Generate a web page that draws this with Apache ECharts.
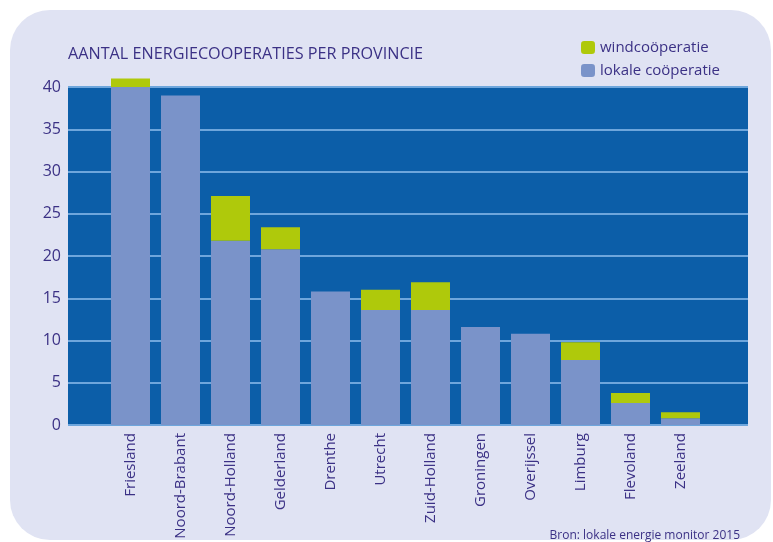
<!DOCTYPE html>
<html>
<head>
<meta charset="utf-8">
<script src="https://cdn.jsdelivr.net/npm/echarts@6/dist/echarts.min.js"></script>
<style>
html,body{margin:0;padding:0;background:#ffffff;}
#c{width:773px;height:542px;}
</style>
</head>
<body>
<div id="c"></div>
<script>
const categories = ["Friesland","Noord-Brabant","Noord-Holland","Gelderland","Drenthe","Utrecht","Zuid-Holland","Groningen","Overijssel","Limburg","Flevoland","Zeeland"];
const lokale = [40, 39, 21.8, 20.8, 15.8, 13.6, 13.6, 11.6, 10.8, 7.7, 2.6, 0.8];
const wind = [1, 0, 5.3, 2.6, 0, 2.4, 3.3, 0, 0, 2.1, 1.2, 0.7];
const yMin = 0, yMax = 40, yStep = 5;
const title = "AANTAL ENERGIECOOPERATIES PER PROVINCIE";
const source = "Bron: lokale energie monitor 2015";

const txt = '#3b3185';
const font = '"Open Sans", "Noto Sans", sans-serif';
const chart = echarts.init(document.getElementById('c'), null, {renderer:'canvas'});
chart.setOption({
  animation: false,
  backgroundColor: '#ffffff',
  graphic: [
    {type:'rect', z:-10, shape:{x:10, y:10, width:761, height:530, r:[40,40,40,40]}, style:{fill:'#e0e3f3'}},
    {type:'text', left:68, top:46, style:{text:title, fill:txt, font:'16.2px ' + font}},
    {type:'text', right:33, top:530, style:{text:source, fill:txt, font:'12px ' + font}}
  ],
  legend: {
    orient:'vertical', left:576, top:35, itemWidth:14, itemHeight:13, itemGap:8,
    data:['windcoöperatie','lokale coöperatie'],
    textStyle:{color:txt, fontSize:15, fontFamily:font}
  },
  grid: [
    {left:68, right:25, top:87, bottom:117, show:true, backgroundColor:'#0c5ea8', borderWidth:0},
    {left:105.5, right:67.5, top:87, bottom:117}
  ],
  xAxis: [
    {gridIndex:0, type:'value', min:0, max:1, show:false},
    {gridIndex:1, type:'category', data:categories,
     axisLine:{show:false}, axisTick:{show:false},
     axisLabel:{rotate:90, color:txt, fontSize:15, fontFamily:font, margin:8, interval:0}}
  ],
  yAxis: [
    {gridIndex:0, type:'value', min:yMin, max:yMax, interval:yStep,
     axisLine:{show:false}, axisTick:{show:false},
     axisLabel:{color:txt, fontSize:16, fontFamily:font, margin:7},
     splitLine:{show:true, lineStyle:{color:'#6ea6dc', width:2}}},
    {gridIndex:1, type:'value', min:yMin, max:yMax, interval:yStep, show:false, splitLine:{show:false}}
  ],
  series: [
    {name:'lokale coöperatie', type:'bar', xAxisIndex:1, yAxisIndex:1, stack:'s', data:lokale,
     barWidth:39, clip:false, itemStyle:{color:'#7a93c9'}},
    {name:'windcoöperatie', type:'bar', xAxisIndex:1, yAxisIndex:1, stack:'s', data:wind,
     barWidth:39, clip:false, itemStyle:{color:'#afc90b'}}
  ]
});
</script>
</body>
</html>
